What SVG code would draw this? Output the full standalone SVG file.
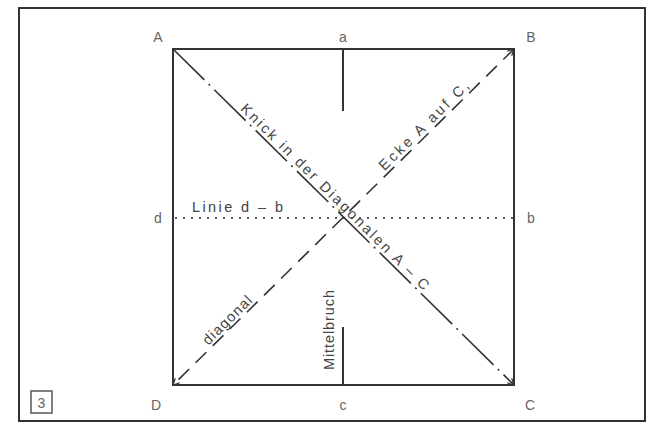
<svg xmlns="http://www.w3.org/2000/svg" width="656" height="423" viewBox="0 0 656 423">
<style>
.lbl{font-family:"Liberation Sans",Arial,sans-serif;font-size:14px;fill:#666;}
.txt{font-family:"Liberation Sans",Arial,sans-serif;font-size:14.5px;fill:#444;}
.edge{stroke:#333;stroke-width:2;fill:none;}
.tick{stroke:#333;stroke-width:2;fill:none;}
</style>
<defs>
<marker id="ah" viewBox="0 0 10 10" refX="9" refY="5" markerWidth="8" markerHeight="8" orient="auto-start-reverse" markerUnits="userSpaceOnUse">
<path d="M1,1 L9,5 L1,9" fill="none" stroke="#333" stroke-width="1.5"/>
</marker>
</defs>
<rect id="frame" x="19" y="8" width="626" height="413" fill="#fff" stroke="#333" stroke-width="2"/>
<g id="square">
<rect class="edge" x="173" y="49" width="341" height="336"/>
</g>
<g id="connectors">
<line x1="343" y1="49" x2="343" y2="111" class="tick"/>
<line x1="343" y1="385" x2="343" y2="327" class="tick"/>
<line x1="175" y1="218" x2="514" y2="218" stroke="#555" stroke-width="2" stroke-dasharray="2 6"/>
<line x1="173" y1="49" x2="514" y2="385" stroke="#333" stroke-width="1.6" stroke-dasharray="44 6 2 6" marker-end="url(#ah)"/>
<line x1="514" y1="49" x2="173" y2="385" stroke="#333" stroke-width="1.6" stroke-dasharray="15 9" marker-end="url(#ah)" marker-start="url(#ah)"/>
</g>
<g id="labels">
<text class="lbl" x="158" y="42" text-anchor="middle">A</text>
<text class="lbl" x="343" y="42" text-anchor="middle">a</text>
<text class="lbl" x="531" y="42" text-anchor="middle">B</text>
<text class="lbl" x="158" y="223" text-anchor="middle">d</text>
<text class="lbl" x="531" y="223" text-anchor="middle">b</text>
<text class="lbl" x="156" y="410" text-anchor="middle">D</text>
<text class="lbl" x="343" y="410" text-anchor="middle">c</text>
<text class="lbl" x="530" y="410" text-anchor="middle">C</text>
</g>
<g id="texts">
<text class="txt" x="192" y="212" textLength="91" lengthAdjust="spacing">Linie d – b</text>
<text class="txt" transform="translate(239.8,109.5) rotate(44.65)" textLength="258" lengthAdjust="spacing">Knick in der Diagonalen A – C</text>
<text class="txt" transform="translate(384.6,171.3) rotate(-44.65)" textLength="120" lengthAdjust="spacing">Ecke A auf C,</text>
<text class="txt" transform="translate(208.3,345.7) rotate(-44.65)" textLength="63" lengthAdjust="spacing">diagonal</text>
<text class="txt" transform="translate(334,370) rotate(-90)" textLength="80" lengthAdjust="spacing">Mittelbruch</text>
</g>
<g id="fig-number">
<rect x="31" y="391" width="21" height="22" fill="none" stroke="#555" stroke-width="1.5"/>
<text class="lbl" x="41.5" y="407.5" text-anchor="middle" font-size="16">3</text>
</g>
</svg>
